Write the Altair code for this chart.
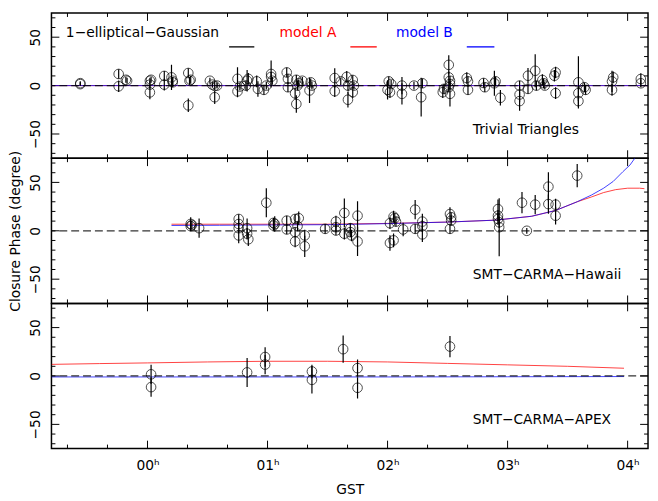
import altair as alt
import pandas as pd

FONT = "DejaVu Sans"

# ---------------- data ----------------
# Trivial triangles: GST (h), closure phase (deg), error (deg)
tt_gst = [-0.56, -0.56, -0.24, -0.24, -0.18, -0.17, 0.02, 0.03, 0.02, 0.02,
          0.14, 0.14, 0.20, 0.21, 0.21, 0.34, 0.35, 0.36, 0.34,
          0.52, 0.54, 0.56, 0.56, 0.58, 0.75, 0.75, 0.77, 0.83, 0.84, 0.82,
          0.91, 0.92, 0.97, 0.99, 1.03, 1.03, 1.04, 1.16, 1.17, 1.17,
          1.24, 1.25, 1.23, 1.24, 1.26, 1.29, 1.35, 1.36, 1.37,
          1.56, 1.56, 1.61, 1.66, 1.67, 1.67, 1.71, 1.71, 1.72,
          2.00, 2.01, 2.02, 2.03, 2.12, 2.12, 2.22, 2.28, 2.29,
          2.46, 2.47, 2.51, 2.51, 2.52, 2.52, 2.51, 2.52,
          2.66, 2.67, 2.67, 2.80, 2.81, 2.89, 2.90, 2.94,
          3.10, 3.10, 3.10, 3.17, 3.17, 3.23, 3.24, 3.29, 3.30, 3.31,
          3.39, 3.40, 3.40, 3.59, 3.59, 3.59, 3.64, 3.65,
          3.87, 3.88, 3.87, 4.11, 4.11]
tt_cp = [2.5, 1.5, 12, -0.7, 6, 5, 5, 6, 1, -7,
         10, 1, 8.5, 3.4, 5, 13, 5, 6, -20.4,
         5, 1, -0.3, -12, 0, 7, -6, -1, 5, 7, 0,
         4.4, -3.4, -4.4, 0, 12, 9, 5, 13.6, 7, -1.7,
         6, 0, -8, -19, 2.4, 5, -5, 3.4, 0,
         7.8, -5.8, 4.4, 9, -14.6, 0, 5.8, -6.8, 0,
         -4.4, 4.4, -6.8, 1.7, 0, -8.5, 0, -12, 2.4,
         -6.8, -3.4, 21.4, 8.5, 5, 1.7, -1.7, -8.5,
         7.8, 4.4, -4.4, 2.7, -1.7, 2.4, 4.4, -12.6,
         0, -9.2, -16, 10.2, -3.4, 15.3, 0, 5.8, 2.4, 0,
         10.2, 13.6, -7.8, 3.4, -7.8, -16, -1.7, -4.4,
         4.4, 8.5, -4.4, 6.8, 2.4]
tt_err = [2, 2, 5, 6, 3, 3, 3, 3, 4, 7,
          5, 6, 13, 5, 4, 5, 4, 4, 7,
          3, 3, 4, 7, 3, 12, 6, 4, 11, 6, 5,
          6, 8, 5, 4, 14, 5, 4, 5, 5, 5,
          5, 5, 6, 9, 4, 4, 13, 4, 4,
          10, 6, 4, 6, 8, 5, 5, 6, 4,
          10, 5, 6, 4, 9, 11, 4, 20, 5,
          6, 5, 10, 6, 5, 5, 5, 13,
          6, 5, 5, 5, 5, 13, 5, 8,
          5, 8, 10, 8, 5, 17, 5, 6, 5, 4,
          6, 6, 6, 27, 8, 6, 5, 5,
          11, 6, 6, 6, 4]

# SMT-CARMA-Hawaii
hw_gst = [0.36, 0.36, 0.37, 0.43, 0.76, 0.76, 0.76, 0.76, 0.83, 0.83, 0.84,
          0.99, 1.05, 1.05, 1.06, 1.16, 1.16, 1.23, 1.23, 1.23, 1.26, 1.25,
          1.31, 1.31, 1.48, 1.57, 1.57, 1.57, 1.64, 1.64, 1.69, 1.69, 1.70,
          1.75, 1.75, 2.02, 2.02, 2.05, 2.06, 2.05, 2.07, 2.13, 2.23, 2.23,
          2.29, 2.29, 2.29, 2.52, 2.53, 2.53, 2.52, 2.92, 2.92, 2.92, 2.93,
          2.93, 3.12, 3.16, 3.23, 3.34, 3.34, 3.40, 3.40, 3.58]
hw_cp = [7.1, 4.8, 6, 2.7, 12.2, 7, 2.7, -4.8, 2.7, -3, -8.8,
         29, 8.2, 5.4, 7, 10.5, 1.4, 12.2, -1.4, -11, 13, 4.8,
         -4.8, -16, 2, 9.5, 3.7, 0.3, 18.4, -3, 2.7, -1.4, -4.8,
         15.6, -11, 7.8, -12.6, 14.6, 13, -9.9, 9.5, 1.4, 21.8, 2,
         9.5, 4.8, -3.7, 17.3, 14, 10.5, 2, 22.4, 15.6, 12.2, 8.8,
         3.7, 29, 0, 27, 45.6, 27.6, 27, 15.6, 57]
hw_err = [7, 5, 4, 10, 5, 5, 5, 8, 10, 6, 7,
          15, 5, 5, 8, 5, 5, 5, 5, 6, 7, 5,
          6, 11, 5, 6, 5, 5, 15, 6, 5, 5, 6,
          15, 15, 6, 8, 6, 5, 7, 5, 7, 10, 5,
          8, 6, 8, 7, 5, 5, 5, 10, 6, 6, 6,
          30, 11, 3, 10, 15, 10, 6, 9, 12]

# SMT-CARMA-APEX
ap_gst = [0.03, 0.03, 0.83, 0.98, 0.98, 1.37, 1.37, 1.63, 1.75, 1.75, 2.52]
ap_cp = [1.7, -11.5, 3.7, 19.6, 11.8, 4.7, -4, 27.7, 8.1, -12.2, 30.4]
ap_err = [10, 10, 15, 10, 10, 7, 14, 14, 9, 11, 11]

# model curves
tt_model_gst = [-0.8, 4.17]
tt_model_a = [0, 0]
tt_model_b = [0, 0]

hw_a_gst = [0.2, 0.6, 1.0, 1.5, 2.0, 2.5, 2.9, 3.2, 3.4, 3.58, 3.7, 3.8, 3.9, 4.0, 4.1, 4.14]
hw_a = [6.8, 6.8, 6.8, 6.8, 7.6, 9, 11, 15, 21, 30, 35, 39.5, 42.5, 44, 44, 43.5]
hw_b_gst = [0.2, 0.6, 1.0, 1.5, 2.0, 2.5, 2.9, 3.2, 3.4, 3.58, 3.7, 3.8, 3.88, 3.96, 4.02, 4.06]
hw_b = [5.5, 5.7, 6.0, 6.3, 7.4, 9, 11, 15, 21, 30, 37, 44, 51, 61, 68, 75]

ap_a_gst = [-0.8, -0.4, 0.0, 0.5, 1.0, 1.5, 2.0, 2.5, 3.0, 3.5, 3.97]
ap_a = [12, 12.8, 13.5, 14.5, 15.2, 15.2, 14.5, 13, 11.5, 10, 8]
ap_b_gst = [-0.8, 1.0, 2.0, 3.0, 3.97]
ap_b = [-1, -1, -1, -0.8, -0.6]

x_major = [0, 1, 2, 3, 4]
x_minor = [-0.6667, -0.3333, 0.3333, 0.6667, 1.3333, 1.6667, 2.3333, 2.6667,
           3.3333, 3.6667]
y_major = [-50, 0, 50]
y_minor = [-70, -60, -40, -30, -20, -10, 10, 20, 30, 40, 60, 70]

legend_labels = ["1\u2212elliptical\u2212Gaussian", "model A", "model B"]
legend_colors = ["black", "#ff0000", "#0000ff"]
panel_labels = ["Trivial Triangles", "SMT\u2212CARMA\u2212Hawaii", "SMT\u2212CARMA\u2212APEX"]

# ---------------- chart ----------------
XD = [-0.8, 4.17]
YD = [-75, 75]
W, H = 604, 147
MAJ, MIN = 8, 4
xs = alt.Scale(domain=XD, nice=False, zero=False)
ys = alt.Scale(domain=YD, nice=False, zero=False)


def make_axes(bottom, show_ytitle):
    xkw = dict(orient="bottom", values=x_major, ticks=False, domain=False, grid=False,
               labels=bottom, labelFontSize=14, labelFont=FONT, labelColor="black",
               labelPadding=10, labelExpr="'0' + datum.value + '\u02b0'")
    if bottom:
        xkw.update(title="GST", titleFont=FONT, titleFontSize=14,
                   titleFontWeight="normal", titleColor="black", titlePadding=10)
    else:
        xkw.update(title=None)
    ykw = dict(orient="left", values=y_major, ticks=False, domain=False, grid=False,
               labelAngle=-90, labelAlign="center", labelBaseline="bottom",
               labelPadding=9, labelFontSize=14, labelFont=FONT, labelColor="black")
    if show_ytitle:
        ykw.update(title="Closure Phase (degree)", titleFont=FONT, titleFontSize=14,
                   titleFontWeight="normal", titlePadding=6, titleColor="black")
    else:
        ykw.update(title=None)
    return alt.Axis(**xkw), alt.Axis(**ykw)


def panel(gst, cp, err, a_gst, a_val, b_gst, b_val, label, bottom, show_ytitle, legend):
    xa, ya = make_axes(bottom, show_ytitle)

    def X(f):
        return alt.X(f, scale=xs, axis=xa)

    def Y(f):
        return alt.Y(f, scale=ys, axis=ya)

    pts = pd.DataFrame({"gst": gst, "cp": cp,
                        "lo": [c - e for c, e in zip(cp, err)],
                        "hi": [c + e for c, e in zip(cp, err)]})
    layers = []
    # inward ticks on all four sides
    for vals, ln in ((x_major, MAJ), (x_minor, MIN)):
        d = pd.DataFrame({"v": vals})
        layers.append(alt.Chart(d).mark_rule(color="black", strokeWidth=1).encode(
            x=X("v:Q"), y=alt.value(0), y2=alt.value(ln)))
        layers.append(alt.Chart(d).mark_rule(color="black", strokeWidth=1).encode(
            x=X("v:Q"), y=alt.value(H - ln), y2=alt.value(H)))
    for vals, ln in ((y_major, MAJ), (y_minor, MIN)):
        d = pd.DataFrame({"v": vals})
        layers.append(alt.Chart(d).mark_rule(color="black", strokeWidth=1).encode(
            y=Y("v:Q"), x=alt.value(0), x2=alt.value(ln)))
        layers.append(alt.Chart(d).mark_rule(color="black", strokeWidth=1).encode(
            y=Y("v:Q"), x=alt.value(W - ln), x2=alt.value(W)))

    adf = pd.DataFrame({"gst": a_gst, "cp": a_val})
    bdf = pd.DataFrame({"gst": b_gst, "cp": b_val})
    layers.append(alt.Chart(adf).mark_line(color="#ff0000", strokeWidth=1, opacity=0.75, clip=True).encode(
        x=X("gst:Q"), y=Y("cp:Q")))
    layers.append(alt.Chart(bdf).mark_line(color="#0000ff", strokeWidth=1, opacity=0.75, clip=True).encode(
        x=X("gst:Q"), y=Y("cp:Q")))
    layers.append(alt.Chart(pd.DataFrame({"cp": [0]})).mark_rule(
        color="black", strokeWidth=1.3, strokeDash=[8, 4], opacity=0.8).encode(y=Y("cp:Q")))
    layers.append(alt.Chart(pts).mark_rule(color="black", strokeWidth=1.2, clip=True).encode(
        x=X("gst:Q"), y=Y("lo:Q"), y2="hi:Q"))
    layers.append(alt.Chart(pts).mark_point(shape="circle", filled=False, size=95,
                                            color="black", strokeWidth=1, clip=True).encode(
        x=X("gst:Q"), y=Y("cp:Q")))
    ldf = pd.DataFrame({"gst": [2.71], "cp": [-46], "t": [label]})
    layers.append(alt.Chart(ldf).mark_text(align="left", baseline="middle", font=FONT,
                                           fontSize=14, color="black").encode(
        x=X("gst:Q"), y=Y("cp:Q"), text="t:N"))
    if legend:
        tdf = pd.DataFrame({"gst": [-0.68, 1.10, 2.07], "cp": [54, 54, 54],
                            "t": legend_labels, "c": legend_colors})
        layers.append(alt.Chart(tdf).mark_text(align="left", baseline="middle", font=FONT,
                                               fontSize=14).encode(
            x=X("gst:Q"), y=Y("cp:Q"), text="t:N", color=alt.Color("c:N", scale=None)))
        sdf = pd.DataFrame({"x1": [0.68, 1.69, 2.66], "x2": [0.89, 1.91, 2.89],
                            "cp": [40, 40, 40], "c": legend_colors})
        layers.append(alt.Chart(sdf).mark_rule(strokeWidth=1.3).encode(
            x=X("x1:Q"), x2="x2:Q", y=Y("cp:Q"), color=alt.Color("c:N", scale=None)))
    return alt.layer(*layers).properties(width=W, height=H)


p1 = panel(tt_gst, tt_cp, tt_err, tt_model_gst, tt_model_a, tt_model_gst, tt_model_b,
           panel_labels[0], False, False, True)
p2 = panel(hw_gst, hw_cp, hw_err, hw_a_gst, hw_a, hw_b_gst, hw_b,
           panel_labels[1], False, True, False)
p3 = panel(ap_gst, ap_cp, ap_err, ap_a_gst, ap_a, ap_b_gst, ap_b,
           panel_labels[2], True, False, False)

chart = alt.vconcat(p1, p2, p3, spacing=0, bounds="flush").properties(
    padding={"left": 0, "top": 0, "right": 0, "bottom": 0},
    background="white",
).configure_view(stroke="black", strokeWidth=1.5)

chart.save("out.html", embed_options={"renderer": "svg", "actions": False})
